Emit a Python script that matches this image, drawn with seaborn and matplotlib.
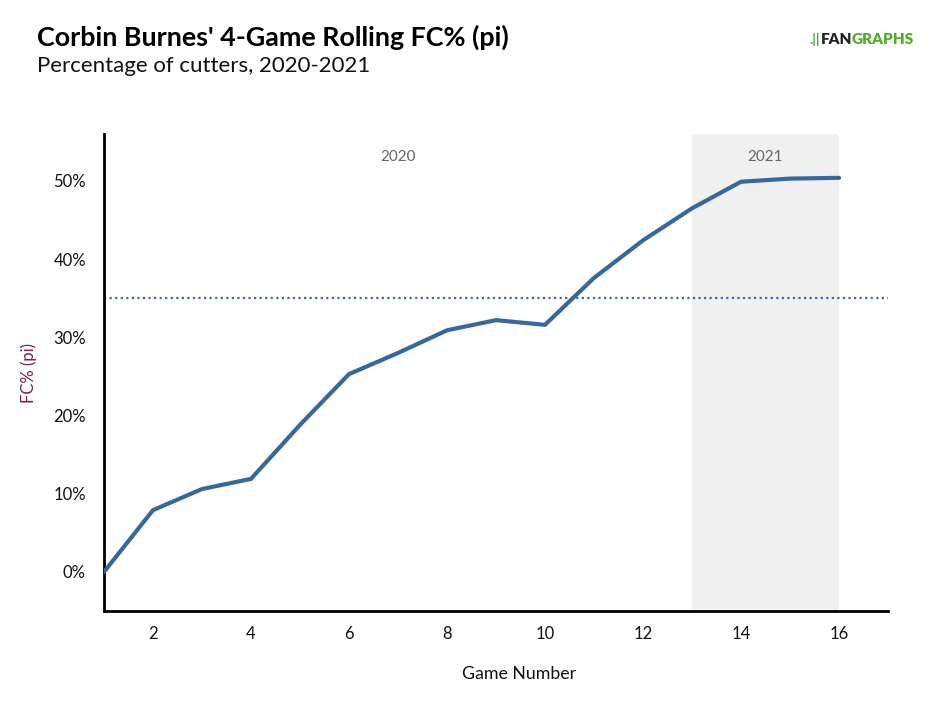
import matplotlib
matplotlib.use("Agg")
import matplotlib.pyplot as plt
import seaborn as sns
import pandas as pd
from matplotlib.ticker import FuncFormatter

games = list(range(1, 17))
fc_pct = [0.0, 7.9, 10.6, 11.9, 18.8, 25.3, 28.0, 30.9, 32.2, 31.6, 37.6, 42.4, 46.5, 49.9, 50.3, 50.4]
avg_line = 35.0
season_labels = ["2020", "2021"]

df = pd.DataFrame({"game": games, "fc": fc_pct})

sns.set_theme(style="white")
plt.rcParams['font.family'] = ['Lato', 'DejaVu Sans']

fig = plt.figure(figsize=(9.46, 7.16), dpi=100)
ax = fig.add_axes([0.1099, 0.1466, 0.8288, 0.6662])

ax.axvspan(13, 16, color="#f0f0f0", zorder=0, lw=0)
ax.axhline(avg_line, color="#3a6a9b", ls=(0, (1, 1.5)), lw=1.6, zorder=1)
sns.lineplot(data=df, x="game", y="fc", ax=ax, color="#36689b", lw=3, zorder=3)

ax.set_xlim(1, 17)
ax.set_ylim(-5, 56)
ax.set_xticks([2, 4, 6, 8, 10, 12, 14, 16])
ax.set_yticks([0, 10, 20, 30, 40, 50])
ax.yaxis.set_major_formatter(FuncFormatter(lambda v, p: f"{int(v)}%"))

for s in ["top", "right"]:
    ax.spines[s].set_visible(False)
for s in ["left", "bottom"]:
    ax.spines[s].set_color("black")
    ax.spines[s].set_linewidth(2)

ax.tick_params(axis="both", which="both", direction="out", length=5, width=1.2,
               color="#666666", labelsize=12, labelcolor="#111111", pad=6)
ax.tick_params(axis="y", pad=8)

ax.set_xlabel("Game Number", fontsize=12.8, color="#111111")
ax.xaxis.set_label_coords(0.529, -0.115)
ax.set_ylabel("FC% (pi)", fontsize=12, color="#7a1f4f", labelpad=12)

ax.text(7, 53.0, season_labels[0], ha="center", va="center", fontsize=11, color="#666666")
ax.text(14.5, 53.0, season_labels[1], ha="center", va="center", fontsize=11, color="#666666")

fig.text(37 / 946, 1 - 37 / 716, "Corbin Burnes' 4-Game Rolling FC% (pi)", fontsize=19.4,
         fontweight="bold", color="black", ha="left", va="center")
fig.text(37 / 946, 1 - 66 / 716, "Percentage of cutters, 2020-2021", fontsize=16,
         color="#111111", ha="left", va="center")

# logo
renderer = fig.canvas.get_renderer()
ly = 1 - 40 / 716
x0 = 809 / 946
p1 = fig.text(x0, ly, ".||", fontsize=10, fontweight="bold", color="#50ae26",
              ha="left", va="center")
bb = p1.get_window_extent(renderer)
p2 = fig.text(bb.x1 / 946 + 1 / 946, ly, "FAN", fontsize=11, fontweight="heavy", color="#222222",
              ha="left", va="center")
bb = p2.get_window_extent(renderer)
fig.text(bb.x1 / 946, ly, "GRAPHS", fontsize=11, fontweight="heavy", color="#50ae26",
         ha="left", va="center")

fig.savefig("out.png", dpi=100, facecolor="white")
